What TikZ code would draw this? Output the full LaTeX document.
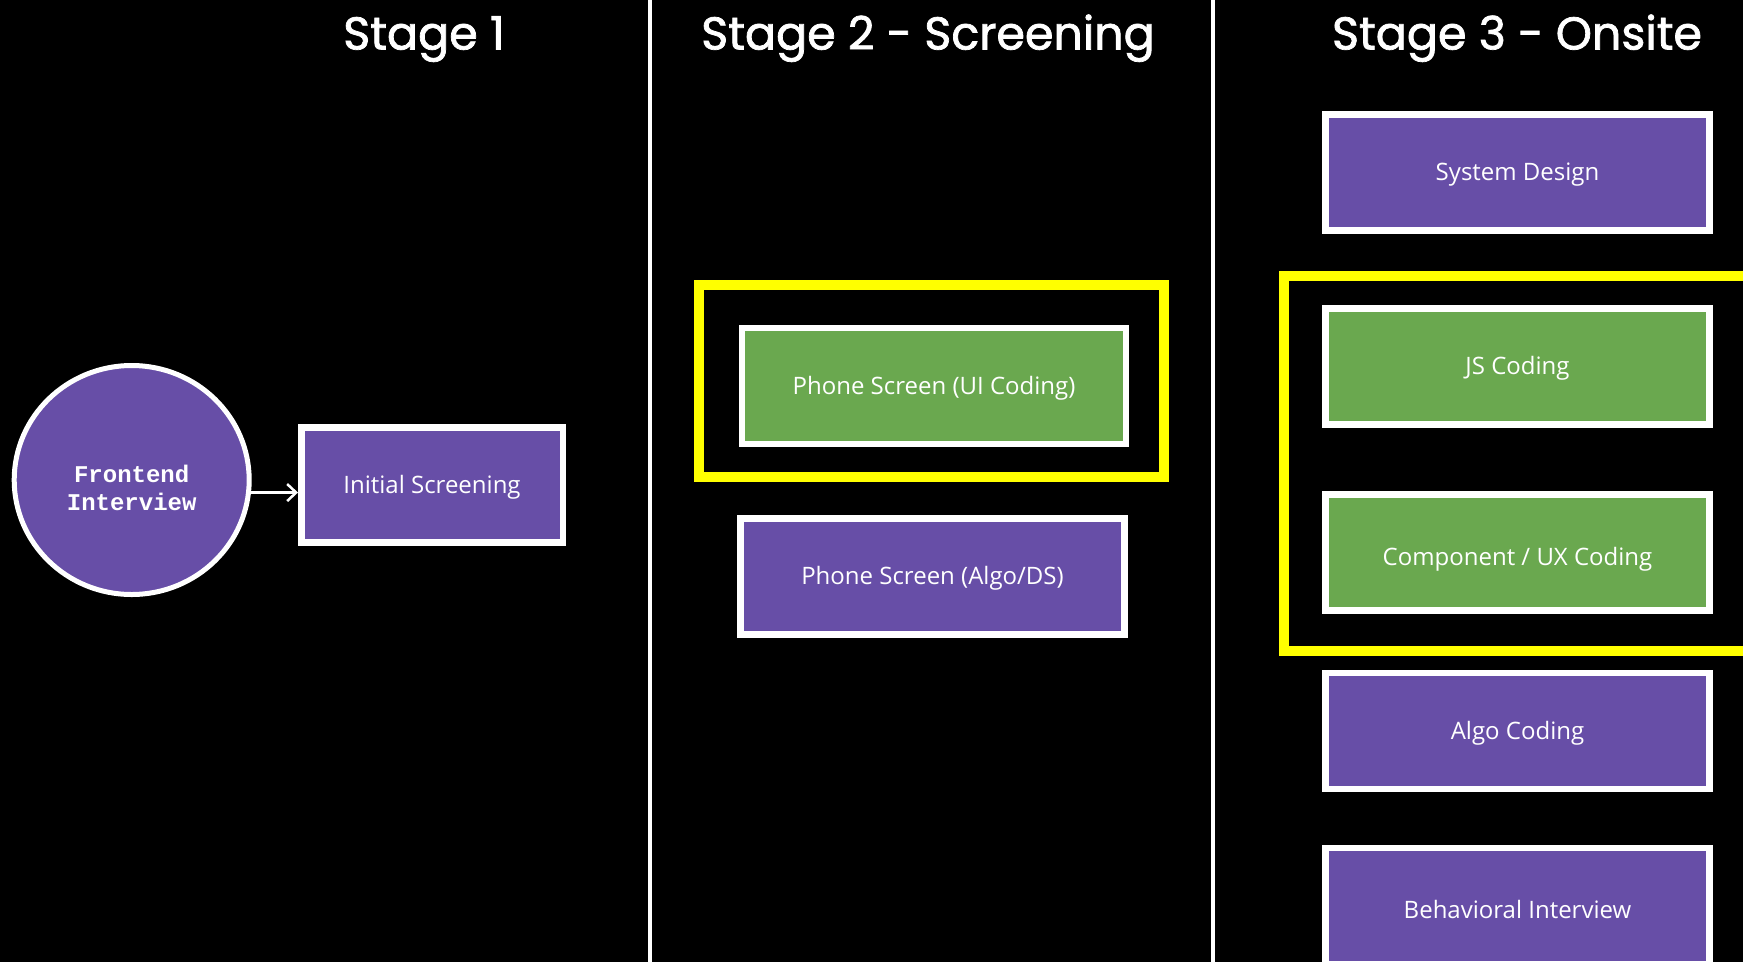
\documentclass[tikz,border=0pt]{standalone}
\usepackage{fontspec}
\usetikzlibrary{arrows.meta,shapes.geometric}
\newfontfamily\titlefont[FakeBold=1.6]{Poppins}
\newfontfamily\boxfont{Open Sans}
\newfontfamily\cmono{Liberation Mono}
\definecolor{bpurple}{HTML}{674EA7}
\definecolor{bgreen}{HTML}{6AA84F}
\definecolor{hyellow}{HTML}{FFFF00}
\begin{document}
\begin{tikzpicture}[x=1pt,y=-1pt,
  box/.style={draw=white, line width=6.5pt, inner sep=0pt, text=white,
    minimum width=384pt, minimum height=116pt, text height=21.5pt, text depth=5.5pt,
    font=\boxfont\fontsize{24}{28}\selectfont},
  pbox/.style={box, fill=bpurple},
  gbox/.style={box, fill=bgreen},
  hilite/.style={draw=hyellow, line width=10pt, inner sep=0pt},
  divider/.style={draw=white, line width=4.5pt},
  title/.style={text=white, font=\titlefont\fontsize{46}{50}\selectfont, anchor=base, inner sep=0pt},
  arr/.style={draw=white, line width=2.5pt, -{Straight Barb[length=9pt,width=17pt]}}]
\fill[black] (0,0) rectangle (1743,962);
\useasboundingbox (0,0) rectangle (1743,962);
% dividers
\draw[divider] (650,0) -- (650,962);
\draw[divider] (1213,0) -- (1213,962);
% titles
\node[title] (t1) at (424,49.5) {Stage 1};
\node[title] (t2) at (928,49.5) {Stage 2 - Screening};
\node[title] (t3) at (1517,49.5) {Stage 3 - Onsite};
% highlights
\node[hilite, minimum width=465pt, minimum height=192pt] (hl2) at (931.5,381) {};
\node[hilite, minimum width=476pt, minimum height=375pt] (hl3) at (1522,463.5) {};
% stage 1
\node[ellipse, draw=white, line width=5pt, fill=bpurple, minimum width=235pt, minimum height=229pt, inner sep=0pt] (fi) at (131.7,480) {};
\node[text=white, align=center, inner sep=0pt, font=\cmono\bfseries\fontsize{24}{28.5}\selectfont] (fitext) at (131.7,488) {Frontend\\Interview};
\node[pbox, minimum width=261.5pt, minimum height=115pt, text height=23pt] (is) at (432,485) {Initial Screening};
\draw[arr] (fi.-6) -- (fi.-6 -| is.west);
% stage 2
\node[gbox] (ui) at (934,386) {Phone Screen (UI Coding)};
\node[pbox] (ads) at (932.5,576.5) {Phone Screen (Algo/DS)};
% stage 3
\node[pbox] (sd) at (1517.5,172.5) {System Design};
\node[gbox] (js) at (1517.5,366.5) {JS Coding};
\node[gbox, text height=25pt, text depth=0pt] (comp) at (1517.5,552.5) {Component / UX Coding};
\node[pbox] (algo) at (1517.5,731) {Algo Coding};
\node[pbox, text height=24pt, text depth=0pt] (beh) at (1517.5,906) {Behavioral Interview};
\end{tikzpicture}
\end{document}
